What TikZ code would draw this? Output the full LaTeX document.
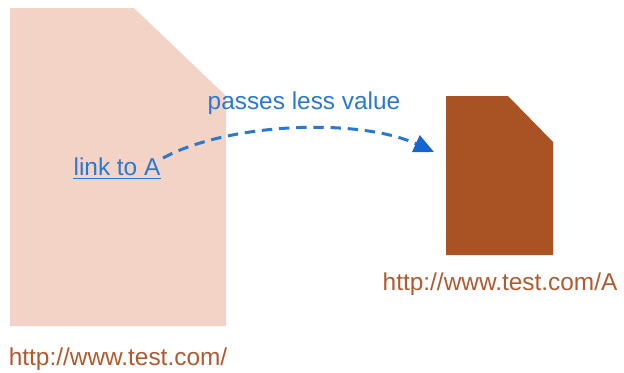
\documentclass[tikz,border=0pt]{standalone}
\usepackage{fontspec}
\setmainfont{Liberation Sans}
\usetikzlibrary{arrows.meta,calc}
\definecolor{pagelight}{HTML}{F2D3C6}
\definecolor{pagedark}{HTML}{A95223}
\definecolor{urlbrown}{HTML}{B05A30}
\definecolor{linkblue}{HTML}{2A78D2}
\definecolor{tipblue}{HTML}{1565D0}
\tikzset{
  urltext/.style={text=urlbrown, font=\fontsize{12.2pt}{14pt}\selectfont, inner sep=0pt},
  bluetext/.style={text=linkblue, font=\fontsize{12.2pt}{14pt}\selectfont, inner sep=0pt},
  linkarrow/.style={draw=linkblue, line width=1.5pt, dash pattern=on 5.2pt off 3.4pt,
    -{Triangle[length=10pt,width=9pt,color=tipblue,fill=tipblue]}}
}
\begin{document}
\begin{tikzpicture}[x=0.5pt,y=-0.5pt]
\useasboundingbox (0,0) rectangle (624,372);
% large page
\fill[pagelight] (10,8) -- (134,8) -- (226,96) -- (226,326) -- (10,326) -- cycle;
% small page
\fill[pagedark] (446,96) -- (508,96) -- (553,142) -- (553,255) -- (446,255) -- cycle;
% texts
\node[urltext] (urlA) at (500,284) {http://www.test.com/A};
\node[urltext] (urlroot) at (118,359) {http://www.test.com/};
\node[bluetext] (link) at (117,167) {link to A};
\draw[linkblue, line width=0.8pt] ($(link.south west)+(0,2)$) -- ($(link.south east)+(0,2)$);
\node[bluetext] (passes) at (304,103) {passes less value};
\coordinate (tip) at (434,152);
\coordinate (start) at (163,158);
\draw[linkarrow] (start) .. controls (230,122) and (360,118) .. (tip);
\end{tikzpicture}
\end{document}
